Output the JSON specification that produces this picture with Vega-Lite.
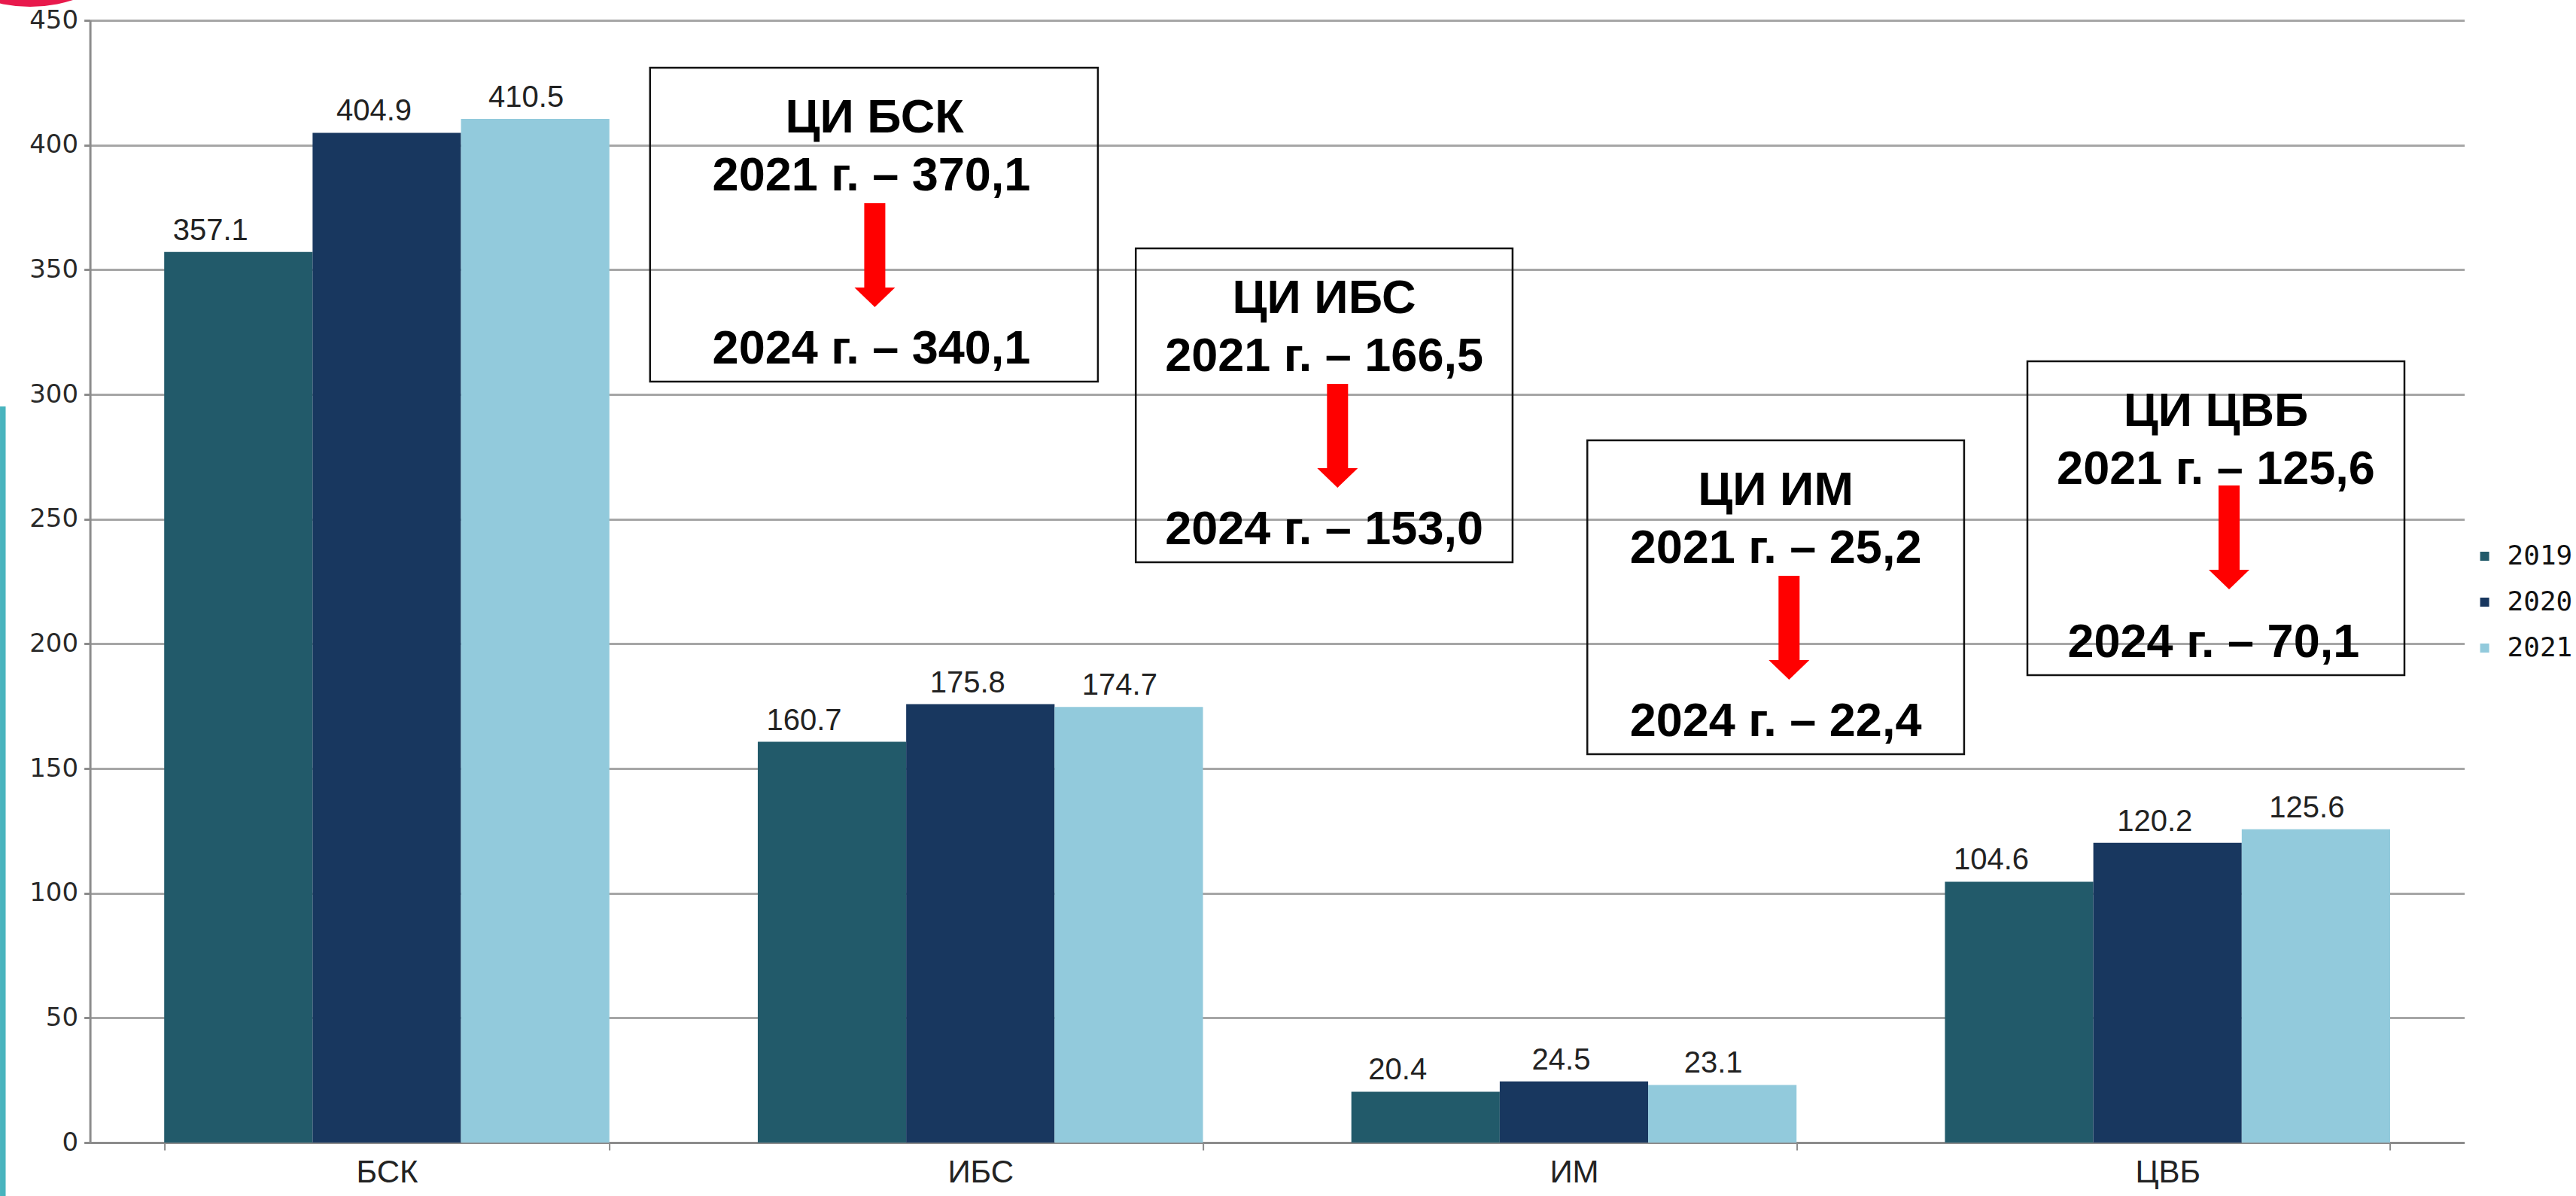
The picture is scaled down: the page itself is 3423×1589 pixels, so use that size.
{
  "$schema": "https://vega.github.io/schema/vega-lite/v6.json",
  "autosize": {"type": "none"},
  "padding": {"left": 119.6, "top": 27, "right": 148.4, "bottom": 71},
  "width": 3155,
  "height": 1491,
  "background": "white",
  "config": {"view": {"stroke": null}, "font": "Liberation Sans"},
  "datasets": {
    "bars": [
      {"cat": "БСК", "year": "2019", "value": 357.1},
      {"cat": "БСК", "year": "2020", "value": 404.9},
      {"cat": "БСК", "year": "2021", "value": 410.5},
      {"cat": "ИБС", "year": "2019", "value": 160.7},
      {"cat": "ИБС", "year": "2020", "value": 175.8},
      {"cat": "ИБС", "year": "2021", "value": 174.7},
      {"cat": "ИМ", "year": "2019", "value": 20.4},
      {"cat": "ИМ", "year": "2020", "value": 24.5},
      {"cat": "ИМ", "year": "2021", "value": 23.1},
      {"cat": "ЦВБ", "year": "2019", "value": 104.6},
      {"cat": "ЦВБ", "year": "2020", "value": 120.2},
      {"cat": "ЦВБ", "year": "2021", "value": 125.6}
    ],
    "boxes": [
      {"x1": 0.9435, "x2": 1.698, "y1": 430.99, "y2": 305.13},
      {"x1": 1.7618, "x2": 2.3966, "y1": 358.55, "y2": 232.7},
      {"x1": 2.5225, "x2": 3.1573, "y1": 281.59, "y2": 155.73},
      {"x1": 3.2639, "x2": 3.8991, "y1": 313.28, "y2": 187.42}
    ],
    "lines": [
      {"tx": 1.3218, "ty": 405.03, "label": "ЦИ БСК"},
      {"tx": 1.3165, "ty": 381.8, "label": "2021 г. – 370,1"},
      {"tx": 1.3165, "ty": 312.38, "label": "2024 г. – 340,1"},
      {"tx": 2.0792, "ty": 332.59, "label": "ЦИ ИБС"},
      {"tx": 2.0792, "ty": 309.36, "label": "2021 г. – 166,5"},
      {"tx": 2.0792, "ty": 239.94, "label": "2024 г. – 153,0"},
      {"tx": 2.8399, "ty": 255.63, "label": "ЦИ ИМ"},
      {"tx": 2.8399, "ty": 232.4, "label": "2021 г. – 25,2"},
      {"tx": 2.8399, "ty": 162.98, "label": "2024 г. – 22,4"},
      {"tx": 3.5815, "ty": 287.32, "label": "ЦИ ЦВБ"},
      {"tx": 3.5815, "ty": 264.09, "label": "2021 г. – 125,6"},
      {"tx": 3.5775, "ty": 194.67, "label": "2024 г. – 70,1"}
    ],
    "arrows": [
      {"ax": 1.3221, "top": 376.66, "head": 342.86},
      {"ax": 2.1017, "top": 304.22, "head": 270.42},
      {"ax": 2.8624, "top": 227.26, "head": 193.46},
      {"ax": 3.6037, "top": 263.48, "head": 229.68}
    ]
  },
  "layer": [
    {
      "data": {"name": "bars"},
      "encoding": {
        "x": {
          "field": "cat", "type": "nominal",
          "sort": ["БСК", "ИБС", "ИМ", "ЦВБ"],
          "scale": {"paddingInner": 0.25, "paddingOuter": 0.125},
          "axis": {
            "title": null, "labelAngle": 0, "grid": false,
            "domainColor": "#8c8c8c", "domainWidth": 3,
            "ticks": true, "tickBand": "extent", "tickColor": "#8c8c8c", "tickWidth": 2, "tickSize": 10,
            "labelFont": "Liberation Sans", "labelFontSize": 42, "labelColor": "#222222", "labelPadding": 9
          }
        },
        "xOffset": {"field": "year", "type": "nominal", "scale": {"paddingInner": 0, "paddingOuter": 0}},
        "y": {
          "field": "value", "type": "quantitative",
          "scale": {"domain": [0, 450], "nice": false},
          "axis": {
            "title": null, "values": [0, 50, 100, 150, 200, 250, 300, 350, 400, 450],
            "grid": true, "gridColor": "#a6a6a6", "gridWidth": 3,
            "domain": true, "domainColor": "#8c8c8c", "domainWidth": 3,
            "ticks": true, "tickColor": "#8c8c8c", "tickWidth": 3, "tickSize": 8,
            "labelFont": "DejaVu Sans", "labelFontSize": 34, "labelColor": "#2a2a2a", "labelPadding": 8
          }
        }
      },
      "layer": [
        {
          "mark": {"type": "bar"},
          "encoding": {
            "color": {
              "field": "year", "type": "nominal",
              "scale": {"domain": ["2019", "2020", "2021"], "range": ["#225a6a", "#18375f", "#92cadc"]},
              "legend": {
                "title": null, "orient": "none", "legendX": 3164, "legendY": 694,
                "symbolType": "square", "symbolSize": 144, "symbolStrokeWidth": 0,
                "labelFont": "DejaVu Sans Mono", "labelFontSize": 36, "labelColor": "#111111",
                "labelOffset": 12, "rowPadding": 25, "padding": 0
              }
            }
          }
        },
        {
          "transform": [{"filter": "datum.year === '2019'"}],
          "mark": {"type": "text", "baseline": "alphabetic", "dy": -16, "dx": -37, "fontSize": 40, "font": "Liberation Sans", "color": "#222222"},
          "encoding": {"text": {"field": "value", "type": "quantitative", "format": ".1f"}}
        },
        {
          "transform": [{"filter": "datum.year === '2020'"}],
          "mark": {"type": "text", "baseline": "alphabetic", "dy": -16, "dx": -17, "fontSize": 40, "font": "Liberation Sans", "color": "#222222"},
          "encoding": {"text": {"field": "value", "type": "quantitative", "format": ".1f"}}
        },
        {
          "transform": [{"filter": "datum.year === '2021'"}],
          "mark": {"type": "text", "baseline": "alphabetic", "dy": -16, "dx": -12, "fontSize": 40, "font": "Liberation Sans", "color": "#222222"},
          "encoding": {"text": {"field": "value", "type": "quantitative", "format": ".1f"}}
        }
      ]
    },
    {
      "layer": [
        {
          "data": {"values": [{}]},
          "mark": {"type": "rect", "color": "#48b4be"},
          "encoding": {
            "x": {"datum": -0.1516, "type": "quantitative", "scale": {"domain": [0, 4], "nice": false, "zero": false}, "axis": null},
            "x2": {"datum": -0.1421},
            "y": {"datum": 295.17, "type": "quantitative", "scale": {"domain": [0, 450], "nice": false}, "axis": null},
            "y2": {"datum": -30}
          }
        },
        {
          "data": {"values": [{}]},
          "mark": {"type": "point", "shape": "circle", "filled": true, "opacity": 1, "color": "#e8194c", "size": 136900},
          "encoding": {
            "x": {"datum": -0.1009, "type": "quantitative", "scale": {"domain": [0, 4], "nice": false, "zero": false}, "axis": null},
            "y": {"datum": 511.27, "type": "quantitative", "scale": {"domain": [0, 450], "nice": false}, "axis": null}
          }
        },
        {
          "data": {"name": "boxes"},
          "mark": {"type": "rect", "fill": "white", "fillOpacity": 0, "stroke": "#111111", "strokeWidth": 2.5},
          "encoding": {
            "x": {"field": "x1", "type": "quantitative", "scale": {"domain": [0, 4], "nice": false, "zero": false}, "axis": null},
            "x2": {"field": "x2"},
            "y": {"field": "y1", "type": "quantitative", "scale": {"domain": [0, 450], "nice": false}, "axis": null},
            "y2": {"field": "y2"}
          }
        },
        {
          "data": {"name": "arrows"},
          "mark": {"type": "rule", "color": "#ff0000", "strokeWidth": 28, "strokeCap": "butt"},
          "encoding": {
            "x": {"field": "ax", "type": "quantitative", "scale": {"domain": [0, 4], "nice": false, "zero": false}, "axis": null},
            "y": {"field": "top", "type": "quantitative", "scale": {"domain": [0, 450], "nice": false}, "axis": null},
            "y2": {"field": "head"}
          }
        },
        {
          "data": {"name": "arrows"},
          "mark": {"type": "point", "shape": "M-1,0L1,0L0,0.963Z", "size": 2916, "filled": true, "opacity": 1, "color": "#ff0000", "strokeWidth": 0},
          "encoding": {
            "x": {"field": "ax", "type": "quantitative", "scale": {"domain": [0, 4], "nice": false, "zero": false}, "axis": null},
            "y": {"field": "head", "type": "quantitative", "scale": {"domain": [0, 450], "nice": false}, "axis": null}
          }
        },
        {
          "data": {"name": "lines"},
          "mark": {"type": "text", "font": "Liberation Sans", "fontWeight": "bold", "fontSize": 63, "color": "#000000", "align": "center", "baseline": "alphabetic"},
          "encoding": {
            "x": {"field": "tx", "type": "quantitative", "scale": {"domain": [0, 4], "nice": false, "zero": false}, "axis": null},
            "y": {"field": "ty", "type": "quantitative", "scale": {"domain": [0, 450], "nice": false}, "axis": null},
            "text": {"field": "label", "type": "nominal"}
          }
        }
      ]
    }
  ],
  "resolve": {"scale": {"x": "independent"}, "axis": {"x": "independent", "y": "independent"}}
}
